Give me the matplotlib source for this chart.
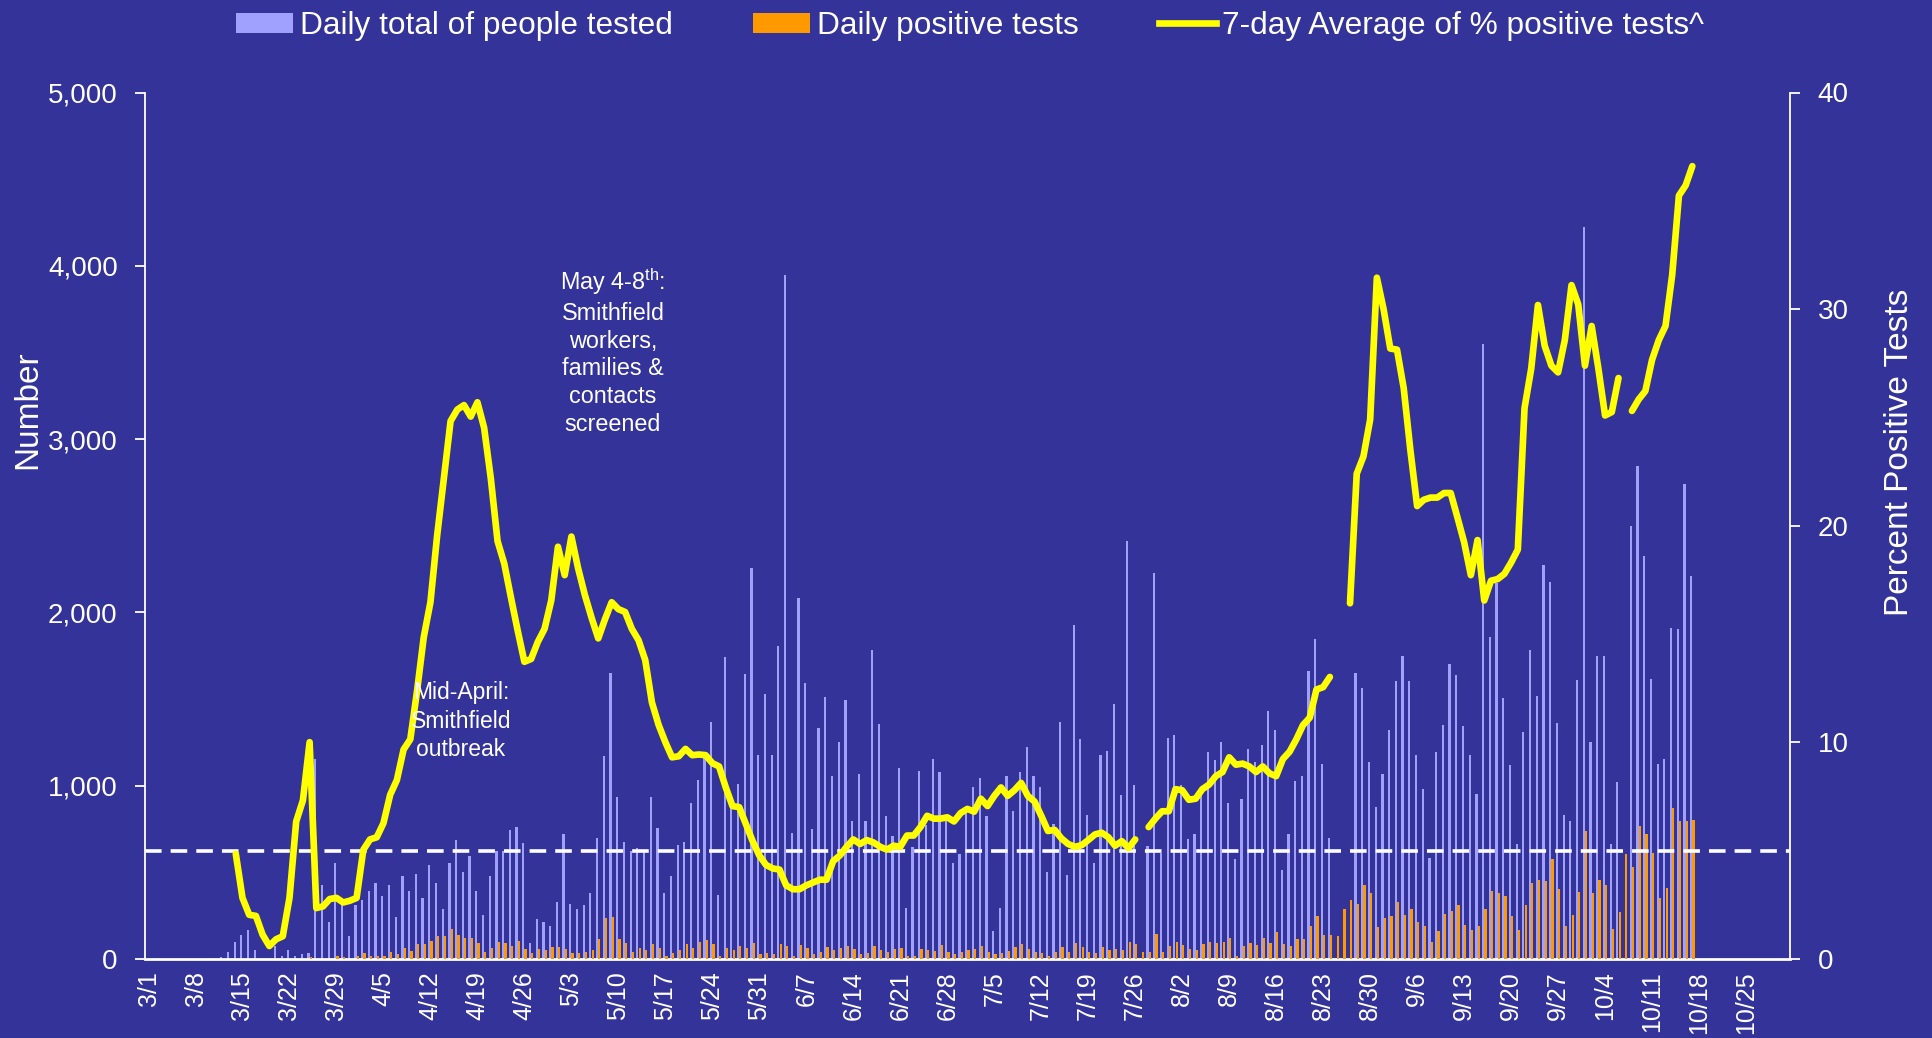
import numpy as np
import matplotlib
matplotlib.use("Agg")
import matplotlib.pyplot as plt
from matplotlib.patches import Patch
from matplotlib.lines import Line2D
import pandas as pd

plt.rcParams['font.family'] = ['Liberation Sans', 'DejaVu Sans']
plt.rcParams['mathtext.fontset'] = 'custom'
plt.rcParams['mathtext.rm'] = 'Liberation Sans'
plt.rcParams['mathtext.it'] = 'Liberation Sans'

# ---------------- data ----------------
days = pd.date_range('2020-03-01', '2020-10-31', freq='D')   # category axis (245 days)
nan = np.nan

# daily total of people tested, from 3/1 onward
tested = [0, 0, 0, 0, 0, 0, 0, 0, 0, 0, 0, 10, 40, 100, 140, 165, 50, 0, 0, 75,
          20, 52, 20, 26, 33, 1154, 425, 212, 556, 353, 134, 314, 343, 392, 441, 366, 425, 245, 477, 395,
          493, 353, 542, 441, 288, 556, 686, 500, 592, 395, 255, 477, 624, 621, 745, 761, 670, 92, 232, 212,
          190, 330, 719, 320, 288, 314, 379, 696, 1170, 1650, 935, 673, 624, 641, 624, 935, 755, 379, 477, 657,
          673, 902, 1033, 1170, 1366, 369, 1742, 954, 1010, 1644, 2255, 1180, 1529, 1180, 1807, 3948, 729, 2085, 1595, 752,
          1333, 1513, 1056, 1252, 1497, 794, 1065, 794, 1781, 1356, 827, 712, 1105, 294, 647, 1082, 771, 1154, 1078, 794,
          556, 608, 843, 990, 1046, 827, 163, 294, 1056, 853, 1078, 1225, 1056, 990, 500, 778, 1366, 484, 1928, 1268,
          833, 556, 1180, 1203, 1471, 948, 2412, 1006, nan, 654, 2229, 614, 1278, 1291, 1006, 690, 722, 974, 1193, 1147,
          1252, 902, 575, 925, 1212, 1137, 1235, 1431, 1324, 516, 719, 1029, 1056, 1660, 1846, 1127, 696, nan, nan, nan,
          1650, 1562, 1137, 876, 1065, 1324, 1605, 1748, 1605, 1180, 980, 582, 1196, 1350, 1703, 1637, 1343, 1176, 951, 3546,
          1856, 2167, 1507, 1121, 663, 1310, 1781, 1520, 2275, 2176, 1359, 833, 794, 1611, 4225, 1252, 1748, 1748, 663, 1023,
          nan, 2500, 2846, 2324, 1618, 1127, 1154, 1912, 1905, 2739, 2209]

# daily positive tests
positive = [0, 0, 0, 0, 0, 0, 0, 0, 0, 0, 0, 0, 0, 0, 0, 0, 0, 0, 0, 0,
            0, 0, 0, 0, 10, 0, 0, 0, 20, 10, 0, 16, 33, 20, 20, 20, 42, 26, 65, 49,
            85, 85, 101, 131, 134, 173, 140, 124, 124, 92, 42, 65, 98, 92, 75, 101, 59, 33, 59, 52,
            69, 69, 59, 36, 33, 42, 52, 118, 239, 245, 118, 92, 42, 65, 52, 85, 65, 20, 33, 52,
            85, 65, 98, 108, 85, 20, 65, 52, 75, 65, 92, 26, 36, 26, 85, 75, 20, 78, 65, 26,
            42, 69, 52, 65, 75, 59, 26, 33, 75, 52, 42, 59, 65, 20, 20, 59, 52, 49, 82, 42,
            26, 42, 52, 59, 75, 42, 26, 36, 49, 69, 85, 59, 42, 36, 20, 42, 69, 42, 92, 69,
            42, 33, 69, 52, 59, 52, 98, 85, 42, 42, 147, 42, 75, 98, 82, 59, 52, 85, 98, 92,
            98, 124, 20, 75, 92, 82, 124, 92, 157, 85, 75, 118, 118, 190, 248, 141, 141, 131, 288, 343,
            320, 425, 379, 183, 239, 248, 330, 255, 288, 216, 190, 98, 163, 261, 278, 314, 196, 167, 190, 288,
            392, 379, 363, 248, 167, 314, 441, 458, 451, 575, 402, 190, 255, 386, 739, 379, 458, 428, 173, 271,
            605, 533, 768, 722, 614, 353, 408, 869, 794, 794, 800]

# 7-day average of % positive tests
pct_avg = [nan] * 13 + [
    4.86, 2.82, 2.04, 1.99, 1.12, 0.60, 0.91, 1.05, 2.82, 6.35, 7.32, 10.01, 2.35, 2.43, 2.77, 2.82,
    2.61, 2.69, 2.82, 5.04, 5.52, 5.62, 6.27, 7.58, 8.26, 9.67, 10.14, 12.36, 14.85, 16.47, 19.55, 22.17,
    24.83, 25.36, 25.57, 25.04, 25.70, 24.52, 22.17, 19.29, 18.25, 16.68, 15.16, 13.72, 13.85, 14.64, 15.24, 16.55,
    19.03, 17.72, 19.50, 18.04, 16.81, 15.76, 14.80, 15.68, 16.47, 16.15, 16.02, 15.24, 14.72, 13.80, 11.84, 10.80,
    10.01, 9.31, 9.36, 9.70, 9.41, 9.44, 9.41, 9.04, 8.89, 7.92, 7.06, 7.01, 6.22, 5.44, 4.78, 4.34,
    4.18, 4.13, 3.40, 3.22, 3.22, 3.40, 3.53, 3.66, 3.66, 4.52, 4.78, 5.18, 5.52, 5.31, 5.49, 5.38,
    5.18, 5.05, 5.23, 5.18, 5.70, 5.70, 6.09, 6.61, 6.48, 6.48, 6.54, 6.35, 6.74, 6.93, 6.80, 7.40,
    7.06, 7.53, 7.92, 7.53, 7.79, 8.13, 7.53, 7.27, 6.61, 5.91, 5.96, 5.57, 5.31, 5.18, 5.25, 5.49,
    5.75, 5.83, 5.62, 5.23, 5.44, 5.12, 5.52, nan, 6.09, 6.48, 6.82, 6.82, 7.84, 7.79, 7.35, 7.40,
    7.84, 8.05, 8.44, 8.63, 9.31, 8.97, 9.02, 8.89, 8.63, 8.89, 8.57, 8.44, 9.23, 9.57, 10.14, 10.80,
    11.14, 12.44, 12.55, 13.02, nan, nan, 16.42, 22.4, 23.2, 24.9, 31.45, 30.0, 28.18, 28.13, 26.35, 23.47,
    20.91, 21.20, 21.30, 21.30, 21.51, 21.51, 20.39, 19.24, 17.72, 19.34, 16.55, 17.46, 17.54, 17.78, 18.30, 18.90,
    25.43, 27.26, 30.19, 28.31, 27.39, 27.08, 28.57, 31.11, 30.22, 27.39, 29.22, 27.26, 25.09, 25.25, 26.82, nan,
    25.30, 25.83, 26.22, 27.66, 28.57, 29.22, 31.58, 35.24, 35.71, 36.60]

threshold_pct = 5
tick_labels = ['3/1', '3/8', '3/15', '3/22', '3/29', '4/5', '4/12', '4/19', '4/26', '5/3', '5/10',
               '5/17', '5/24', '5/31', '6/7', '6/14', '6/21', '6/28', '7/5', '7/12', '7/19', '7/26',
               '8/2', '8/9', '8/16', '8/23', '8/30', '9/6', '9/13', '9/20', '9/27', '10/4', '10/11',
               '10/18', '10/25']

# ---------------- styling ----------------
BG = '#333399'
LAV = '#A0A0FF'
ORG = '#FF9900'
YEL = '#FFFF00'
WHITE = 'white'

W, H = 1933, 1038
fig = plt.figure(figsize=(W / 100, H / 100), dpi=100, facecolor=BG)
ax = fig.add_axes([145.5 / W, 1 - 959 / H, (1790 - 145.5) / W, (959 - 92.5) / H])
ax.set_facecolor(BG)

n = len(days)
x_t = np.arange(len(tested))
x_p = np.arange(len(positive))
x_l = np.arange(len(pct_avg))

bw = 0.33
ax.bar(x_t - 0.17, np.nan_to_num(np.array(tested, dtype=float)), width=bw, color=LAV, linewidth=0, zorder=2)
ax.bar(x_p + 0.17, np.array(positive, dtype=float), width=bw, color=ORG, linewidth=0, zorder=3)

ax.set_xlim(-0.45, n - 0.45)
ax.set_ylim(0, 5000)
ax.set_yticks([0, 1000, 2000, 3000, 4000, 5000])
ax.set_yticklabels(['0', '1,000', '2,000', '3,000', '4,000', '5,000'])
ax.set_xticks(np.arange(0, 7 * len(tick_labels), 7))
ax.set_xticklabels(tick_labels, rotation=90, ha='center', va='top')

for s in ['top', 'right']:
    ax.spines[s].set_visible(False)
ax.spines['left'].set_color(WHITE)
ax.spines['left'].set_linewidth(1.3)
ax.spines['bottom'].set_color(WHITE)
ax.spines['bottom'].set_linewidth(2.0)
ax.tick_params(axis='y', colors=WHITE, labelsize=20, length=7, width=1.3, direction='out', pad=13)
ax.tick_params(axis='x', colors=WHITE, labelsize=18, length=0, pad=9)

ax2 = ax.twinx()
ax2.set_ylim(0, 40)
ax2.set_yticks([0, 10, 20, 30, 40])
for s in ['top', 'left', 'bottom']:
    ax2.spines[s].set_visible(False)
ax2.spines['right'].set_color(WHITE)
ax2.spines['right'].set_linewidth(1.3)
ax2.tick_params(axis='y', colors=WHITE, labelsize=20, length=7, width=1.3, direction='out', pad=13)

ax2.axhline(threshold_pct, color=WHITE, linewidth=2.6, linestyle=(0, (4.6, 2.5)), zorder=4)
ax2.plot(x_l, pct_avg, color=YEL, linewidth=4.8, solid_capstyle='round', solid_joinstyle='round', zorder=5)

# axis titles
fig.text(28 / W, 1 - 410 / H, 'Number', rotation=90, ha='center', va='center', color=WHITE, fontsize=24)
fig.text(1900 / W, 1 - 452 / H, 'Percent Positive Tests', rotation=90, ha='center', va='center',
         color=WHITE, fontsize=24)

# annotations
fig.text(461 / W, 1 - 721 / H, 'Mid-April:\nSmithfield\noutbreak', ha='center', va='center',
         multialignment='center', color=WHITE, fontsize=16.5, linespacing=1.33)
fig.text(613 / W, 1 - 351 / H, 'May 4-8$^{\\mathregular{th}}$:\nSmithfield\nworkers,\nfamilies &\ncontacts\nscreened',
         ha='center', va='center', multialignment='center', color=WHITE, fontsize=16.8, linespacing=1.26)

# legend
handles = [Patch(facecolor=LAV, edgecolor='none'),
           Patch(facecolor=ORG, edgecolor='none'),
           Line2D([0], [0], color=YEL, linewidth=4.8)]
labels = ['Daily total of people tested', 'Daily positive tests', '7-day Average of % positive tests^']
leg = fig.legend(handles, labels, loc='center', bbox_to_anchor=(0.502, 1 - 26 / H), ncol=3,
                 frameon=False, fontsize=22.8, handlelength=1.8, handleheight=0.58, handletextpad=0.2,
                 columnspacing=2.55, labelcolor=WHITE)

fig.savefig('out.png', dpi=100, facecolor=BG)
